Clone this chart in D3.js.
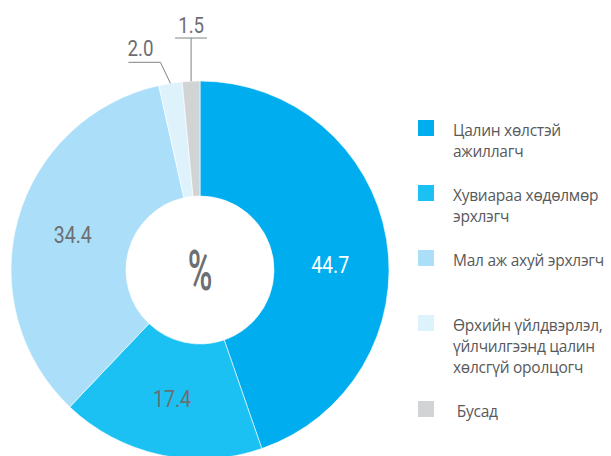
<!DOCTYPE html>
<html>
<head>
<meta charset="utf-8">
<script src="https://cdn.jsdelivr.net/npm/d3@7"></script>
<style>
  body { margin: 0; background: #fff; }
  svg { display: block; }
  .num { font-family: Roboto, "DejaVu Sans", sans-serif; }
  .legend text { font-family: "Open Sans", "Noto Sans", sans-serif; font-size: 15.5px; letter-spacing: -0.25px; fill: #58595b; }
</style>
</head>
<body>
<div id="chart"></div>
<script>
const categories = [
  'Цалин хөлстэй ажиллагч',
  'Хувиараа хөдөлмөр эрхлэгч',
  'Мал аж ахуй эрхлэгч',
  'Өрхийн үйлдвэрлэл, үйлчилгээнд цалин хөлсгүй оролцогч',
  'Бусад'
]
const values = [44.7, 17.4, 34.4, 2.0, 1.5]
const legendLines = [
  ['Цалин хөлстэй', 'ажиллагч'],
  ['Хувиараа хөдөлмөр', 'эрхлэгч'],
  ['Мал аж ахуй эрхлэгч', ''],
  ['Өрхийн үйлдвэрлэл,', 'үйлчилгээнд цалин', 'хөлсгүй оролцогч'],
  [' Бусад']
]

const colors = ['#00aeef', '#1ac1f2', '#abdff9', '#def2fb', '#d1d3d4']
const grey = '#6d6e71'

const width = 611
const height = 456
const cx = 200
const cy = 270
const outerR = 189
const innerR = 74

const svg = d3.select('#chart').append('svg')
  .attr('width', width)
  .attr('height', height)

const g = svg.append('g')
  .attr('transform', `translate(${cx}, ${cy})`)

const data = values.map((v, i) => ({ name: categories[i], value: v, i }))

const pie = d3.pie().sort(null).value((d) => d.value)
const arcs = pie(data)

const arc = d3.arc().innerRadius(innerR).outerRadius(outerR)
const labelArc = d3.arc().innerRadius(132).outerRadius(132)
const fmt = d3.format('.1f')

// condensed look for the numbers
const squeeze = 0.85

g.selectAll('.slice')
  .data(arcs)
  .enter()
  .append('path')
  .attr('class', 'slice')
  .attr('d', arc)
  .attr('fill', (d) => colors[d.data.i])
  .attr('stroke', '#fff')
  .attr('stroke-width', 0.6)

// big slices: value inside
const inside = arcs.filter((d) => d.data.value > 10)
g.selectAll('.inlabel')
  .data(inside)
  .enter()
  .append('text')
  .attr('class', 'inlabel num')
  .attr('transform', (d) => {
    const c = labelArc.centroid(d)
    // the first label sits a bit lower than its centroid
    const dy = d.index === 0 ? 17 : 0
    return `translate(${c[0]}, ${c[1] + dy}) scale(${squeeze}, 1)`
  })
  .attr('text-anchor', 'middle')
  .attr('dy', '0.36em')
  .attr('fill', (d) => d.index === 0 ? '#fff' : grey)
  .style('font-size', '23px')
  .text((d) => fmt(d.data.value))

// small slices: leader lines with labels on top
const outside = arcs.filter((d) => d.data.value <= 10)
const leaders = outside.map((d) => {
  const mid = (d.startAngle + d.endAngle) / 2
  const sx = Math.sin(mid) * outerR
  const sy = -Math.cos(mid) * outerR
  if (d.index === 3) {
    const ex = sx - 10
    const ey = sy - 21
    return { d, pts: [[sx, sy], [ex, ey], [ex - 32, ey]], tx: ex - 20, ty: ey - 6 }
  }
  const ey = -cy + 38
  return { d, pts: [[sx, sy], [sx, ey]], hline: [[sx - 16, ey], [sx + 16, ey]], tx: sx, ty: ey - 5 }
})

const line = d3.line()
leaders.forEach((l) => {
  g.append('path')
    .attr('d', line(l.pts))
    .attr('fill', 'none')
    .attr('stroke', '#808285')
    .attr('stroke-width', 1)
  if (l.hline) {
    g.append('path')
      .attr('d', line(l.hline))
      .attr('fill', 'none')
      .attr('stroke', '#808285')
      .attr('stroke-width', 1)
  }
  g.append('text')
    .attr('class', 'num')
    .attr('transform', `translate(${l.tx}, ${l.ty}) scale(${squeeze}, 1)`)
    .attr('text-anchor', 'middle')
    .attr('fill', grey)
    .style('font-size', '22px')
    .text(fmt(l.d.data.value))
})

// center sign
g.append('text')
  .attr('class', 'num')
  .attr('transform', 'translate(0, 20) scale(0.6, 1)')
  .attr('text-anchor', 'middle')
  .attr('fill', grey)
  .style('font-size', '56px')
  .style('font-weight', 500)
  .text('%')

// legend
const lineH = 21
const legend = svg.append('g').attr('class', 'legend')
let ly = 120
legendLines.forEach((lines, i) => {
  const item = legend.append('g').attr('transform', `translate(418, ${ly})`)
  item.append('rect')
    .attr('width', 16)
    .attr('height', 16)
    .attr('fill', colors[i])
  item.selectAll('text')
    .data(lines)
    .enter()
    .append('text')
    .attr('x', 35)
    .attr('y', (d, j) => 16 + j * lineH)
    .attr('xml:space', 'preserve')
    .style('white-space', 'pre')
    .text((d) => d)
  ly += lines.length * lineH + 23
})
</script>
</body>
</html>
